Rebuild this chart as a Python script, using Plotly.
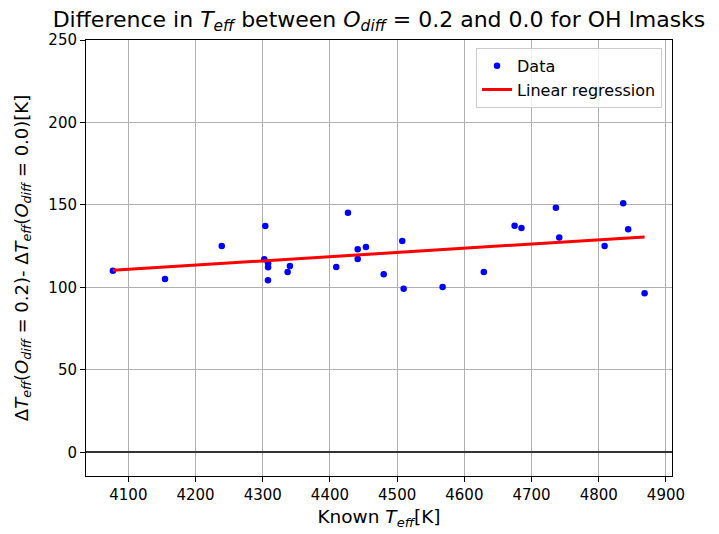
import plotly.graph_objects as go

# Data
known_teff = [4077, 4154.6, 4239, 4303.8, 4302.3, 4308, 4308, 4307.8, 4340.5, 4337,
              4409.4, 4426.8, 4441.3, 4453.6, 4441.3, 4480, 4507.6, 4509.7, 4567.7,
              4629, 4674.8, 4685, 4736.2, 4741.2, 4808.7, 4836.4, 4843.8, 4868.2]
delta_teff = [110.1, 105.1, 125.1, 137.2, 117.0, 114.6, 112.2, 104.3, 113.0, 109.3,
              112.4, 145.3, 123.1, 124.5, 117.2, 107.9, 128.1, 99.2, 100.2,
              109.3, 137.4, 136.0, 148.2, 130.2, 125.1, 151.0, 135.2, 96.4]
reg_x = [4077, 4868.2]
reg_y = [110.3, 130.6]

x_ticks = [4100, 4200, 4300, 4400, 4500, 4600, 4700, 4800, 4900]
y_ticks = [0, 50, 100, 150, 200, 250]

font_family = "DejaVu Sans"
W, H = 711, 526

fig = go.Figure()
fig.add_trace(go.Scatter(
    x=known_teff, y=delta_teff, mode="markers", name="Data",
    marker=dict(color="blue", size=6.5, line=dict(width=0)),
))
fig.add_trace(go.Scatter(
    x=reg_x, y=reg_y, mode="lines", name="Linear regression",
    line=dict(color="red", width=3),
))

axis_common = dict(
    showgrid=True, gridcolor="#b0b0b0", gridwidth=1,
    showline=True, linecolor="black", linewidth=1, mirror=True,
    ticks="outside", ticklen=5, tickcolor="black", tickwidth=1,
    tickfont=dict(family=font_family, size=15, color="black"),
    automargin=False,
)

fig.update_layout(
    width=W, height=H,
    margin=dict(l=78, r=47, t=32, b=58),
    paper_bgcolor="white", plot_bgcolor="white",
    font=dict(family=font_family, color="black"),
    title=dict(
        text="Difference in <i>T</i><sub><i>eff</i></sub> between <i>O</i><sub><i>diff</i></sub> = 0.2 and 0.0 for OH lmasks",
        x=371 / W, xanchor="center", xref="container",
        y=1 - 11 / H, yanchor="middle", yref="container",
        font=dict(family=font_family, size=22, color="black"),
    ),
    xaxis=dict(
        range=[4037, 4909], tickvals=x_ticks, zeroline=False,
        title=dict(text="Known <i>T</i><sub><i>eff</i></sub>[K]",
                   font=dict(family=font_family, size=18.5), standoff=7),
        **axis_common,
    ),
    yaxis=dict(
        range=[-14.4, 250], tickvals=y_ticks,
        zeroline=True, zerolinecolor="#333333", zerolinewidth=1.5,
        title=dict(text="Δ<i>T</i><sub><i>eff</i></sub>(<i>O</i><sub><i>diff</i></sub> = 0.2)- Δ<i>T</i><sub><i>eff</i></sub>(<i>O</i><sub><i>diff</i></sub> = 0.0)[K]",
                   font=dict(family=font_family, size=18), standoff=15),
        **axis_common,
    ),
    legend=dict(
        x=0.983, y=0.982, xanchor="right", yanchor="top",
        bgcolor="rgba(255,255,255,0.8)", bordercolor="#cccccc", borderwidth=1,
        font=dict(family=font_family, size=16, color="black"),
    ),
    showlegend=True,
)

fig.write_html("out.html")
